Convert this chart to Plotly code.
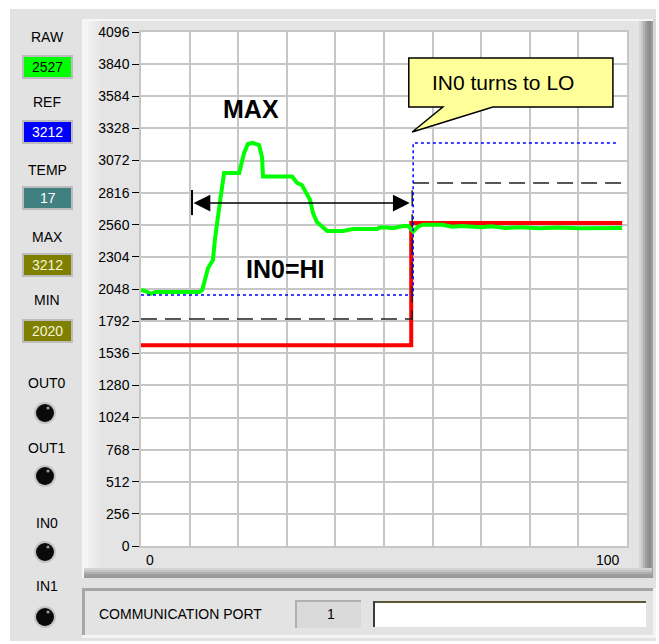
import plotly.graph_objects as go

W, H = 659, 644

# ---------------- data ----------------
RAW_X = [0, 1, 2, 3, 12, 12.6, 13.8, 14.8, 15.2, 16.0, 16.3, 17.1, 20.2, 21.2, 22.0, 23.0,
         24.3, 24.9, 25.1, 31.1, 32.1, 33.1, 34.8, 35.4, 36.2, 38.3, 41.6, 43.6, 48.6, 49.2,
         52, 54, 55, 56, 57, 58, 62, 64, 66, 70, 72, 75, 78, 82, 86, 90, 94, 99]
RAW_Y = [2040, 2030, 2010, 2025, 2025, 2040, 2215, 2279, 2438, 2700, 2757, 2972, 2972, 3131, 3203, 3212,
         3195, 3100, 2945, 2945, 2893, 2877, 2757, 2653, 2582, 2510, 2510, 2526, 2526, 2540,
         2535, 2550, 2550, 2505, 2545, 2560, 2560, 2545, 2550, 2540, 2548, 2535, 2540, 2532, 2538, 2532, 2536, 2534]

LOW_X = [0, 55.6, 55.6, 99]
LOW_Y = [1600, 1600, 2573, 2573]

THR_X = [0, 55.8, 55.8, 99]
THR_Y = [1809, 1809, 2892, 2892]

REF_X = [0, 56, 56, 98.2]
REF_Y = [2000, 2000, 3212, 3212]

Y_TICKS = [0, 256, 512, 768, 1024, 1280, 1536, 1792, 2048, 2304, 2560, 2816, 3072, 3328, 3584, 3840, 4096]
Y_TICK_TEXT = [str(v) for v in Y_TICKS]
X_TICK_LABELS = ["0", "100"]

INDICATORS = [  # label, value, fill, text colour
    ("RAW", "2527", "#00ff00", "#000000"),
    ("REF", "3212", "#0000ff", "#ffffff"),
    ("TEMP", "17", "#408080", "#ffffff"),
    ("MAX", "3212", "#808000", "#f4f4d8"),
    ("MIN", "2020", "#808000", "#f4f4d8"),
]
LEDS = ["OUT0", "OUT1", "IN0", "IN1"]

FONT = "Liberation Sans, Arial, sans-serif"


def py2p(y):
    return 1 - y / H


def prect(x0, y0, x1, y1, fill, layer="below", line=None):
    return dict(type="rect", xref="paper", yref="paper",
                x0=x0 / W, x1=x1 / W, y0=py2p(y1), y1=py2p(y0),
                fillcolor=fill, line=line or dict(width=0), layer=layer)


def pline(x0, y0, x1, y1, color, width, layer="below"):
    return dict(type="line", xref="paper", yref="paper",
                x0=x0 / W, x1=x1 / W, y0=py2p(y0), y1=py2p(y1),
                line=dict(color=color, width=width), layer=layer)


def pcircle(cx, cy, r, fill, layer="below"):
    return dict(type="circle", xref="paper", yref="paper",
                x0=(cx - r) / W, x1=(cx + r) / W, y0=py2p(cy + r), y1=py2p(cy - r),
                fillcolor=fill, line=dict(width=0), layer=layer)


def ptext(x, y, text, size=14, color="black", xanchor="center"):
    return dict(xref="paper", yref="paper", x=x / W, y=py2p(y), text=text,
                showarrow=False, xanchor=xanchor, yanchor="middle",
                font=dict(family=FONT, size=size, color=color))


fig = go.Figure()

fig.add_trace(go.Scatter(x=LOW_X, y=LOW_Y, mode="lines", line=dict(color="#ff0000", width=4), hoverinfo="skip"))
fig.add_trace(go.Scatter(x=THR_X, y=THR_Y, mode="lines", line=dict(color="#202020", width=1.5, dash="16px,8px"), hoverinfo="skip"))
fig.add_trace(go.Scatter(x=RAW_X, y=RAW_Y, mode="lines", line=dict(color="#00ff00", width=4), hoverinfo="skip"))
fig.add_trace(go.Scatter(x=REF_X, y=REF_Y, mode="lines", line=dict(color="#0000ff", width=1.5, dash="3px,3px"), hoverinfo="skip"))

shapes = []
# window panel
shapes.append(prect(10, 9, 656, 641, "#e2e2e2"))
# graph frame (raised)
shapes.append(prect(82, 19, 654, 578, "#f6f6f6"))
shapes.append(prect(84, 21, 654, 578, "#9a9a9a"))
shapes.append(prect(84, 21, 652, 576, "#e4e4e4"))
for i, c in enumerate(["#f4f4f4", "#f0f0f0", "#ececec", "#e8e8e8"]):
    shapes.append(prect(84 + i * 4, 21, 88 + i * 4, 576, c))
for i, c in enumerate(["#d6d6d6", "#c6c6c6", "#b2b2b2", "#a0a0a0", "#929292", "#8a8a8a", "#9c9c9c"]):
    shapes.append(prect(639 + i * 2, 21, 641 + i * 2, 576, c))
shapes.append(prect(653, 19, 656, 578, "#d8d8d8"))
for i, c in enumerate(["#d4d4d4", "#c4c4c4", "#b0b0b0", "#9c9c9c"]):
    shapes.append(prect(84, 568 + i * 2, 652, 570 + i * 2, c))
# plot area
shapes.append(prect(141, 32, 627, 546, "#ffffff"))

# bottom panel (recessed)
shapes.append(prect(82, 588, 656, 638, "#f4f4f4"))
shapes.append(prect(82, 588, 653, 635, "#a6a6a6"))
shapes.append(prect(85, 591, 653, 635, "#e3e3e3"))
shapes.append(prect(295, 600, 361, 628, "#b0b0b0"))
shapes.append(prect(297, 602, 361, 628, "#dadada"))
shapes.append(prect(373, 601, 646, 627, "#ffffff"))
shapes.append(pline(373, 602, 646, 602, "#5a5636", 2))
shapes.append(pline(374, 601, 374, 627, "#3c3c3c", 2))

annotations = []
label_y = [37, 102, 170, 237, 300]
box_y = [67, 132, 198, 265, 331]
for (lab, val, fill, tc), ly, by in zip(INDICATORS, label_y, box_y):
    annotations.append(ptext(47, ly, lab, size=14))
    shapes.append(prect(22, by - 12, 73, by + 12, "#bcbcbc"))
    shapes.append(prect(24, by - 10, 71, by + 10, fill))
    annotations.append(ptext(47.5, by, val, size=14, color=tc))

led_label_y = [383, 448, 523, 586]
led_y = [413, 476, 552, 617]
for lab, ly, cy in zip(LEDS, led_label_y, led_y):
    annotations.append(ptext(47, ly, lab, size=14))
    shapes.append(pcircle(45, cy, 11, "#c4c4c4"))
    shapes.append(pcircle(45, cy, 9, "#0a0a0a"))
    shapes.append(pcircle(48, cy - 5, 1.6, "#9a9a9a"))

annotations.append(dict(xref="x", yref="paper", x=0, y=py2p(560), text=X_TICK_LABELS[0], showarrow=False,
                        xanchor="left", yanchor="middle", xshift=3, font=dict(family=FONT, size=14, color="black")))
annotations.append(dict(xref="x", yref="paper", x=100, y=py2p(560), text=X_TICK_LABELS[1], showarrow=False,
                        xanchor="right", yanchor="middle", xshift=-5, font=dict(family=FONT, size=14, color="black")))

annotations.append(ptext(97, 614, "COMMUNICATION PORT", size=14, xanchor="left"))
annotations.append(ptext(331, 614, "1", size=14))

annotations.append(dict(xref="x", yref="y", x=22.6, y=3482, text="<b>MAX</b>", showarrow=False,
                        xanchor="center", yanchor="middle", font=dict(family=FONT, size=25, color="black")))
annotations.append(dict(xref="x", yref="y", x=29.7, y=2207, text="<b>IN0=HI</b>", showarrow=False,
                        xanchor="center", yanchor="middle", font=dict(family=FONT, size=25, color="black")))
annotations.append(dict(xref="x", yref="y", axref="x", ayref="y", x=55.3, y=2733, ax=10.5, ay=2733,
                        text="", showarrow=True, arrowside="end+start", arrowhead=2, startarrowhead=2,
                        arrowsize=2.1, startarrowsize=2.1, arrowwidth=1.6, arrowcolor="black",
                        standoff=0, startstandoff=0))
shapes.append(dict(type="line", xref="x", yref="y", x0=10.5, x1=10.5, y0=2637, y1=2837,
                   line=dict(color="black", width=2), layer="above"))
shapes.append(dict(type="path", xref="x", yref="y",
                   path="M 55.1,3889 L 97.1,3889 L 97.1,3498 L 72.4,3498 L 55.8,3299 L 62.1,3498 L 55.1,3498 Z",
                   fillcolor="#ffff99", line=dict(color="black", width=1.5), layer="above"))
annotations.append(dict(xref="x", yref="y", x=59.4, y=3697, text="IN0 turns to LO", showarrow=False,
                        xanchor="left", yanchor="middle", font=dict(family=FONT, size=21, color="black")))

fig.update_layout(
    width=W, height=H, autosize=False,
    margin=dict(l=0, r=0, t=0, b=0, pad=0, autoexpand=False),
    paper_bgcolor="#ffffff", plot_bgcolor="rgba(0,0,0,0)",
    showlegend=False,
    shapes=shapes, annotations=annotations,
    xaxis=dict(domain=[141 / W, 627 / W], range=[0, 100], tickvals=list(range(0, 101, 10)), automargin=False,
               showticklabels=False, ticks="", showgrid=True, gridcolor="#c6c6c6", gridwidth=1.5,
               zeroline=False, showline=True, linecolor="#c6c6c6", linewidth=1.5, mirror=True, fixedrange=True),
    yaxis=dict(domain=[1 - 546 / H, 1 - 32 / H], range=[0, 4096], tickvals=Y_TICKS, ticktext=Y_TICK_TEXT,
               automargin=False, ticks="outside", ticklen=7, tickwidth=1, tickcolor="black",
               tickfont=dict(family=FONT, size=14, color="black"),
               showgrid=True, gridcolor="#c6c6c6", gridwidth=1.5,
               zeroline=False, showline=True, linecolor="#c6c6c6", linewidth=1.5, mirror=True, fixedrange=True),
)

fig.write_html("out.html", config={"displayModeBar": False},
               post_script="document.body.style.margin='0px';document.body.style.overflow='hidden';")
